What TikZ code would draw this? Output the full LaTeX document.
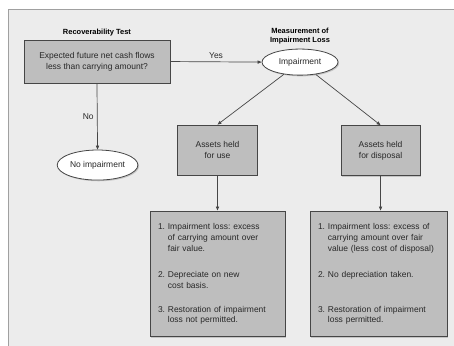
\documentclass[tikz,border=0pt]{standalone}
\usepackage{fontspec}
\setmainfont{Liberation Sans}
\usetikzlibrary{arrows.meta, positioning, shapes.geometric, shadows}
\definecolor{panelgray}{RGB}{236,236,236}
\definecolor{boxgray}{RGB}{190,190,190}
\definecolor{linegray}{RGB}{70,70,70}
\definecolor{framegray}{RGB}{160,160,160}
\definecolor{textgray}{RGB}{40,40,40}
\newcommand{\lind}{\hphantom{1.\ }}
\newcommand{\boxfont}{\fontsize{8.5}{11}\selectfont\frenchspacing}
\tikzset{
  shade/.style   = {drop shadow={shadow xshift=1.2pt, shadow yshift=-1.2pt, fill=gray!75}},
  box/.style     = {draw=linegray, fill=boxgray, line width=0.9pt, align=center,
                    font=\boxfont, text=textgray, inner sep=3pt, shade},
  listbox/.style = {box, align=left, inner xsep=8bp, minimum height=4.44cm},
  oval/.style    = {ellipse, draw=linegray, fill=white, line width=0.8pt,
                    font=\boxfont, text=textgray, inner sep=1pt, shade},
  title/.style   = {font=\fontsize{7.5}{9.5}\selectfont\bfseries, text=black, align=center, inner sep=1pt},
  lbl/.style     = {font=\boxfont, text=textgray},
  arrow/.style   = {-{Triangle[length=4pt, width=3.2pt]}, line width=0.7pt, color=linegray},
}

\begin{document}
\begin{tikzpicture}
  \clip (0,0) rectangle (16.01,-12.2);
  % panel
  \fill[panelgray, draw=framegray, line width=0.8pt] (0.28,-0.32) rectangle (16.5,-12.6);

  % recoverability test
  \node[box, minimum width=5.15cm, minimum height=1.52cm] (test) at (3.42,-2.17)
    {Expected future net cash flows\\less than carrying amount?};
  \node[title, above=2pt of test] (testlbl) {Recoverability Test};
  \node[oval, minimum width=2.79cm, minimum height=1.06cm] (noimp) at (3.44,-5.82) {No impairment};

  % measurement of impairment loss
  \node[oval, minimum width=2.68cm, minimum height=0.92cm] (imp) at (10.58,-2.19) {Impairment};
  \node[title, above=3pt of imp] (implbl) {Measurement of\\Impairment Loss};
  \node[box, minimum width=2.79cm, minimum height=1.76cm] (use) at (7.67,-5.29) {Assets held\\for use};
  \node[box, minimum width=2.79cm, minimum height=1.76cm] (disp) at (13.42,-5.31) {Assets held\\for disposal};

  \node[listbox, text width=4.196cm] (uselist) at (7.67,-9.66)
    {1.\ Impairment loss: excess\\\lind of carrying amount over\\\lind fair value.\\[15pt]
     2.\ Depreciate on new\\\lind cost basis.\\[13pt]
     3.\ Restoration of impairment\\\lind loss not permitted.};
  \node[listbox, text width=4.27cm] (displist) at (13.35,-9.66)
    {1.\ Impairment loss: excess of\\\lind carrying amount over fair\\\lind value (less cost of disposal)\\[15pt]
     2.\ No depreciation taken.\\[24pt]
     3.\ Restoration of impairment\\\lind loss permitted.};

  % connectors
  \draw[arrow] (test.east) -- (imp.west) node[lbl, midway, above] {Yes};
  \draw[arrow] (test.south) -- (noimp.north) node[lbl, midway, left] {No};
  \draw[arrow] (imp) -- (use.north);
  \draw[arrow] (imp) -- (disp.north);
  \draw[arrow] (use.south) -- (uselist.north);
  \draw[arrow] (disp.south) -- (disp.south |- displist.north);
\end{tikzpicture}
\end{document}
